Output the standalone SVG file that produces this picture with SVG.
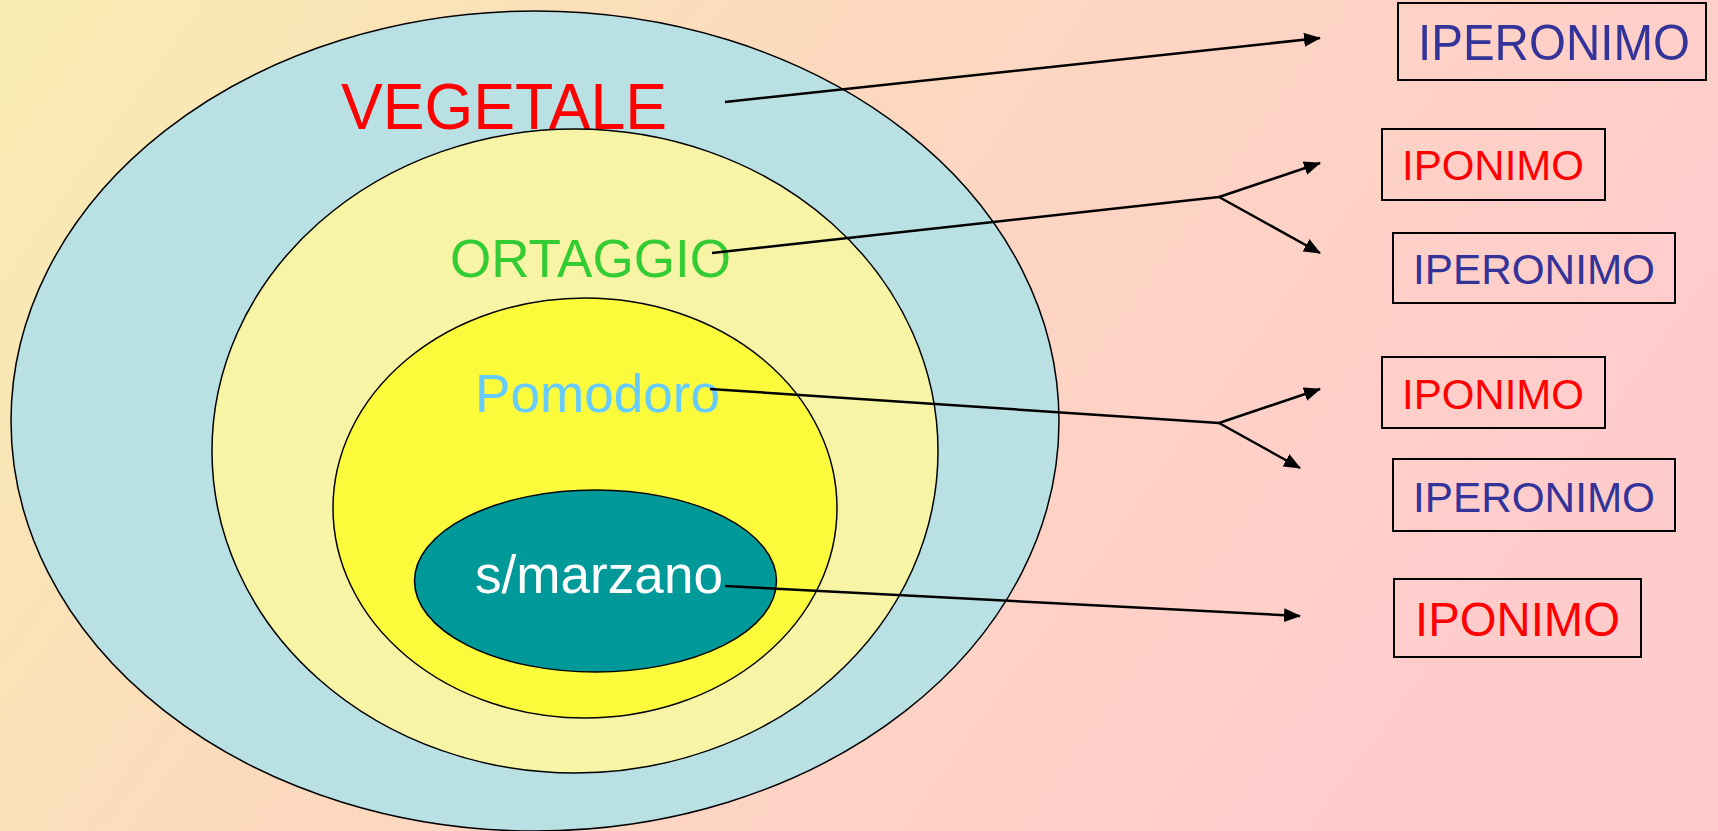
<svg xmlns="http://www.w3.org/2000/svg" width="1718" height="831" viewBox="0 0 1718 831">
<defs>
<linearGradient id="bg" x1="0" y1="0" x2="1" y2="0.35">
<stop offset="0" stop-color="#F8EDB0"/>
<stop offset="0.45" stop-color="#FCD9BE"/>
<stop offset="1" stop-color="#FFCCCC"/>
</linearGradient>
<marker id="ah" markerUnits="userSpaceOnUse" markerWidth="18" markerHeight="14" refX="16" refY="7" orient="auto">
<path d="M0,0 L17,7 L0,14 Z" fill="#000"/>
</marker>
<style>
.ell{stroke:#000;stroke-width:1.5}
.box{fill:none;stroke:#000;stroke-width:2}
.lbl{font-family:"Liberation Sans",Arial,sans-serif}
.conn{stroke:#000;stroke-width:2.5;fill:none}
</style>
</defs>
<rect width="1718" height="831" fill="url(#bg)"/>
<g id="vegetale">
<ellipse class="ell" cx="535" cy="421" rx="524" ry="410" fill="#B9E0E3"/>
<text class="lbl" x="341" y="129" font-size="64" fill="#FF0000" textLength="326" lengthAdjust="spacingAndGlyphs">VEGETALE</text>
</g>
<g id="ortaggio">
<ellipse class="ell" cx="575" cy="451" rx="363" ry="322" fill="#F8F4A6"/>
<text class="lbl" x="450" y="277" font-size="54" fill="#33CC33" textLength="281" lengthAdjust="spacingAndGlyphs">ORTAGGIO</text>
</g>
<g id="pomodoro">
<ellipse class="ell" cx="585" cy="508" rx="252" ry="210" fill="#FBFB3C"/>
<text class="lbl" x="475" y="412" font-size="53" fill="#66CCFF" textLength="245" lengthAdjust="spacingAndGlyphs">Pomodoro</text>
</g>
<g id="smarzano">
<ellipse class="ell" cx="595.5" cy="581" rx="181" ry="91" fill="#009999"/>
<text class="lbl" x="475" y="593" font-size="53" fill="#FFFFFF" textLength="248" lengthAdjust="spacingAndGlyphs">s/marzano</text>
</g>
<g id="connectors">
<line class="conn" x1="725" y1="102" x2="1320" y2="38" marker-end="url(#ah)"/>
<line class="conn" x1="712" y1="253" x2="1219" y2="197"/>
<line class="conn" x1="1219" y1="197" x2="1320" y2="163" marker-end="url(#ah)"/>
<line class="conn" x1="1219" y1="197" x2="1320" y2="253" marker-end="url(#ah)"/>
<line class="conn" x1="710" y1="389" x2="1219" y2="423"/>
<line class="conn" x1="1219" y1="423" x2="1320" y2="389" marker-end="url(#ah)"/>
<line class="conn" x1="1219" y1="423" x2="1300" y2="468" marker-end="url(#ah)"/>
<line class="conn" x1="725" y1="586" x2="1300" y2="616" marker-end="url(#ah)"/>
</g>
<g id="box1">
<rect class="box" x="1398" y="3" width="308" height="77"/>
<text class="lbl" x="1418" y="60" font-size="50" fill="#333399" textLength="272" lengthAdjust="spacingAndGlyphs">IPERONIMO</text>
</g>
<g id="box2">
<rect class="box" x="1382" y="129" width="223" height="71"/>
<text class="lbl" x="1402" y="180" font-size="43" fill="#FF0000" textLength="182" lengthAdjust="spacingAndGlyphs">IPONIMO</text>
</g>
<g id="box3">
<rect class="box" x="1393" y="233" width="282" height="70"/>
<text class="lbl" x="1413" y="284" font-size="43" fill="#333399" textLength="242" lengthAdjust="spacingAndGlyphs">IPERONIMO</text>
</g>
<g id="box4">
<rect class="box" x="1382" y="357" width="223" height="71"/>
<text class="lbl" x="1402" y="409" font-size="43" fill="#FF0000" textLength="182" lengthAdjust="spacingAndGlyphs">IPONIMO</text>
</g>
<g id="box5">
<rect class="box" x="1393" y="459" width="282" height="72"/>
<text class="lbl" x="1413" y="512" font-size="43" fill="#333399" textLength="242" lengthAdjust="spacingAndGlyphs">IPERONIMO</text>
</g>
<g id="box6">
<rect class="box" x="1394" y="579" width="247" height="78"/>
<text class="lbl" x="1415" y="636" font-size="48" fill="#FF0000" textLength="205" lengthAdjust="spacingAndGlyphs">IPONIMO</text>
</g>
</svg>
